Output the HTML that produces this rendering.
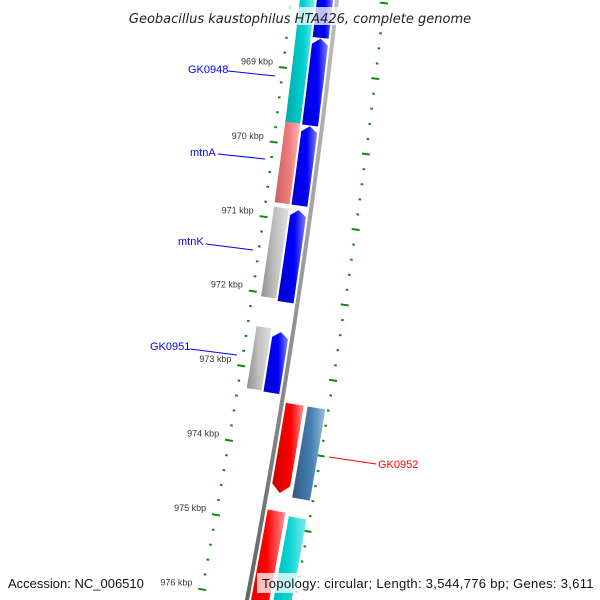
<!DOCTYPE html>
<html><head><meta charset="utf-8"><style>
html,body{margin:0;padding:0;background:#fff;width:600px;height:600px;overflow:hidden;}
svg{display:block;font-family:"Liberation Sans",sans-serif;}
</style></head><body>
<svg id="map" width="600" height="600" viewBox="0 0 600 600">
<defs>
<linearGradient id="gblue" x1="0" x2="1"><stop offset="0" stop-color="#0000c8"/><stop offset="0.6" stop-color="#0000ff"/><stop offset="1" stop-color="#8080ff"/></linearGradient>
<linearGradient id="gcyan" x1="0" x2="1"><stop offset="0" stop-color="#00a8a8"/><stop offset="0.6" stop-color="#00d0d0"/><stop offset="1" stop-color="#80ecec"/></linearGradient>
<linearGradient id="gpink" x1="0" x2="1"><stop offset="0" stop-color="#c86060"/><stop offset="0.6" stop-color="#f08080"/><stop offset="1" stop-color="#f8b8b8"/></linearGradient>
<linearGradient id="ggray" x1="0" x2="1"><stop offset="0" stop-color="#909090"/><stop offset="0.5" stop-color="#c0c0c0"/><stop offset="1" stop-color="#e0e0e0"/></linearGradient>
<linearGradient id="gred" x1="0" x2="1"><stop offset="0" stop-color="#c80000"/><stop offset="0.6" stop-color="#ff0000"/><stop offset="1" stop-color="#ff9090"/></linearGradient>
<linearGradient id="gsteel" x1="0" x2="1"><stop offset="0" stop-color="#305a80"/><stop offset="0.6" stop-color="#4682b4"/><stop offset="1" stop-color="#a0c0dc"/></linearGradient>
<linearGradient id="gback" x1="0" x2="1"><stop offset="0" stop-color="#606060"/><stop offset="0.5" stop-color="#909090"/><stop offset="1" stop-color="#c0c0c0"/></linearGradient>
</defs>
<g id="ticks"></g>
<g id="features"></g>
<g id="backbone"></g>
<g font-family="Liberation Sans, sans-serif" font-size="11">
<text x="188" y="73" fill="#0000ff">GK0948</text>
<line x1="228" y1="71" x2="275" y2="76" stroke="#0000ff"/>
<text x="190" y="156" fill="#0000ff">mtnA</text>
<line x1="218" y1="154" x2="265" y2="159" stroke="#0000ff"/>
<text x="178" y="245" fill="#0000ff">mtnK</text>
<line x1="206" y1="244" x2="253" y2="250" stroke="#0000ff"/>
<text x="150" y="350" fill="#0000ff">GK0951</text>
<line x1="190" y1="349" x2="237" y2="355" stroke="#0000ff"/>
<text x="378" y="468" fill="#ff0000">GK0952</text>
<line x1="329" y1="457" x2="376" y2="464" stroke="#ff0000"/>
</g>
<rect x="116" y="7" width="368" height="18" fill="rgba(255,255,255,0.75)"/>
<text x="300" y="23" text-anchor="middle" font-family="DejaVu Sans, sans-serif" font-size="13" font-style="italic" fill="#222">Geobacillus kaustophilus HTA426, complete genome</text>
<text x="8" y="588" font-family="Liberation Sans, sans-serif" font-size="13" fill="#111">Accession: NC_006510</text>
<rect x="257" y="573" width="338" height="20" fill="rgba(255,255,255,0.75)"/>
<text x="262" y="588" font-family="Liberation Sans, sans-serif" font-size="13" letter-spacing="0.3" fill="#111">Topology: circular; Length: 3,544,776 bp; Genes: 3,611</text>
</svg>
<script>
const tickKbp = [969,970,971,972,973,974,975,976];
const featStart = [968.0,968.56,969.73,970.85,972.48, 968.0,969.71,970.85,972.45, 973.39,974.81, 973.39,974.85];
const featEnd   = [968.55,969.72,970.79,972.08,973.29, 969.71,970.79,972.05,973.28, 974.57,977.0, 974.60,977.0];
const featSlot  = [-1,-1,-1,-1,-1, -2,-2,-2,-2, 1,1, 2,2];
const featColor = ['blue','blue','blue','blue','blue','cyan','pink','gray','gray','red','red','steel','cyan'];
const featArrow = [0,1,1,1,1, 0,0,0,0, 1,1, 0,0];
const featNames = ['gene-a','GK0948-arrow','mtnA-partner','mtnK-partner','GK0951-partner','GK0948','mtnA','mtnK','GK0951','gene-red-1','gene-red-2','GK0952','gene-cyan'];

const NS='http://www.w3.org/2000/svg';
function xb(y){return 337-0.11*y-0.0000667*y*y;}
function slope(y){return 0.11+0.000133*y;}
function yOf(k){return 73+(k-969)*75;}
function pt(yb,d){const s=slope(yb),L=Math.sqrt(1+s*s);return [xb(yb)+d/L, yb+d*s/L];}
function mk(tag,attrs,parent){const e=document.createElementNS(NS,tag);for(const k in attrs)e.setAttribute(k,attrs[k]);parent.appendChild(e);return e;}

const bb=document.getElementById('backbone');
let bpts=[];for(let y=-10;y<=610;y+=10){bpts.push(pt(y,-2));}for(let y=610;y>=-10;y-=10){bpts.push(pt(y,2));}
const bbp=mk('polygon',{points:bpts.map(p=>p.join(',')).join(' '),fill:'url(#gback)'},bb);



const fg=document.getElementById('features');
const slotD={'-1':[-20,-4],'-2':[-37,-22],'1':[4,22],'2':[26,44]};
const fills={blue:'url(#gblue)',cyan:'url(#gcyan)',pink:'url(#gpink)',gray:'url(#ggray)',red:'url(#gred)',steel:'url(#gsteel)'};
for(let i=0;i<featStart.length;i++){
  const [d0,d1]=slotD[featSlot[i]];
  const y0=yOf(featStart[i]),y1=yOf(featEnd[i]);
  const dm=(d0+d1)/2;let P=[];
  if(featArrow[i]&&featSlot[i]<0){
    P.push(pt(y0,dm),pt(y0+6,d1));for(let y=y0+6;y<=y1;y+=10)P.push(pt(y,d1));P.push(pt(y1,d1),pt(y1,d0));
    for(let y=y1;y>y0+6;y-=10)P.push(pt(y,d0));P.push(pt(y0+6,d0));
  }else if(featArrow[i]){
    P.push(pt(y0,d0));for(let y=y0;y<y1-8;y+=10)P.push(pt(y,d1));P.push(pt(y1-8,d1),pt(y1,dm),pt(y1-8,d0));
    for(let y=y1-8;y>y0;y-=10)P.push(pt(y,d0));P.push(pt(y0,d0));
  }else{
    for(let y=y0;y<y1;y+=10)P.push(pt(y,d1));P.push(pt(y1,d1),pt(y1,d0));
    for(let y=y1;y>y0;y-=10)P.push(pt(y,d0));P.push(pt(y0,d0));
  }
  const e=mk('polygon',{points:P.map(p=>p.join(',')).join(' '),fill:fills[featColor[i]]},fg);
  
  
}

const tg=document.getElementById('ticks');
for(let k=968;k<=977;k+=0.2){
  const kk=Math.round(k*10)/10;const y=yOf(kk);
  const major=Math.abs(kk-Math.round(kk))<0.01;
  const len=major?4:1.3;
  [[-46,'inner'],[47,'outer']].forEach(([d,r])=>{
    const a=pt(y,d-len),b=pt(y,d+len);
    const t=mk('line',{x1:a[0],y1:a[1],x2:b[0],y2:b[1],stroke:'#118811','stroke-width':2},tg);
    
    
  });
}
for(let i=0;i<tickKbp.length;i++){
  const p=pt(yOf(tickKbp[i]),-56);
  const t=mk('text',{x:p[0],y:p[1]-2,'text-anchor':'end','font-size':'9',fill:'#333'},tg);
  t.textContent=tickKbp[i]+' kbp';
  
  
}
</script>
</body></html>
